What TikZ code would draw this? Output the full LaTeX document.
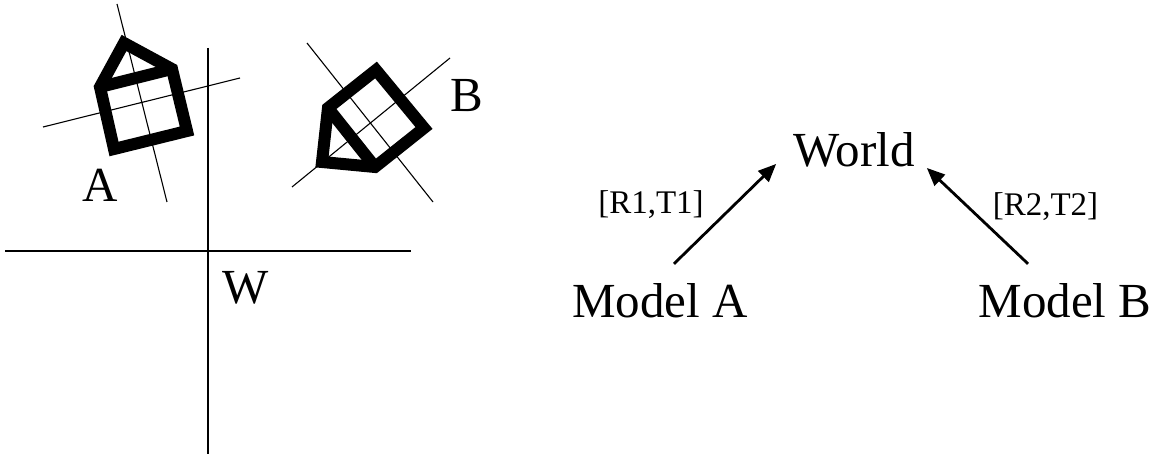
\documentclass[tikz,border=0pt]{standalone}
\usepackage{fontspec}
\setmainfont{Liberation Serif}
\usetikzlibrary{arrows.meta}
\definecolor{ink}{HTML}{000000}
\tikzset{
  big/.style  ={font=\fontsize{49}{58}\selectfont,inner sep=0pt,anchor=base,text=ink},
  lbl/.style  ={font=\fontsize{33}{40}\selectfont,inner sep=0pt,text=ink},
  arr/.style  ={-{Triangle[length=18pt,width=15pt]},line width=2.8pt,draw=ink},
  hair/.style ={line width=1.1pt,draw=ink},
  house/.style={line width=12pt,draw=ink,line join=miter},
}

\begin{document}
\begin{tikzpicture}[x=1pt,y=-1pt]
  \useasboundingbox (0,0) rectangle (1166,454);

  % world frame W
  \draw[hair] (208,48) -- (208,454);
  \draw[hair] (5,251) -- (411,251);
  \node[big,anchor=base west] (labelw) at (222,303) {W};

  % house A
  \draw[hair] (117,4) -- (167,202);
  \draw[hair] (43,127) -- (240,78);
  \draw[house] (100,87) -- (124,43) -- (172,69) -- (187,131) -- (114,149) -- cycle;
  \draw[house] (100,87) -- (172,69);
  \node[big,anchor=base west] (labela) at (82,202) {A};

  % house B
  \draw[hair] (307,43) -- (433,202);
  \draw[hair] (292,187) -- (450,58);
  \draw[house] (328,108) -- (376,70) -- (424,128) -- (375,167) -- (322,162) -- cycle;
  \draw[house] (328,108) -- (375,167);
  \node[big,anchor=base west] (labelb) at (450,112) {B};

  % models and world
  \node[big] (world)  at (854,167)  {World};
  \node[big] (modela) at (660,317)  {Model A};
  \node[big] (modelb) at (1065,317) {Model B};

  \draw[arr] ([xshift=14pt,yshift=19pt]modela.north)
    -- node[lbl,anchor=base east,xshift=-20pt] (r1t1) {[R1,T1]} ([xshift=-17pt,yshift=4pt]world.south west);
  \draw[arr] ([xshift=-37pt,yshift=19pt]modelb.north)
    -- node[lbl,anchor=base west,xshift=14pt] (r2t2) {[R2,T2]} ([xshift=12pt]world.south east);
\end{tikzpicture}
\end{document}
